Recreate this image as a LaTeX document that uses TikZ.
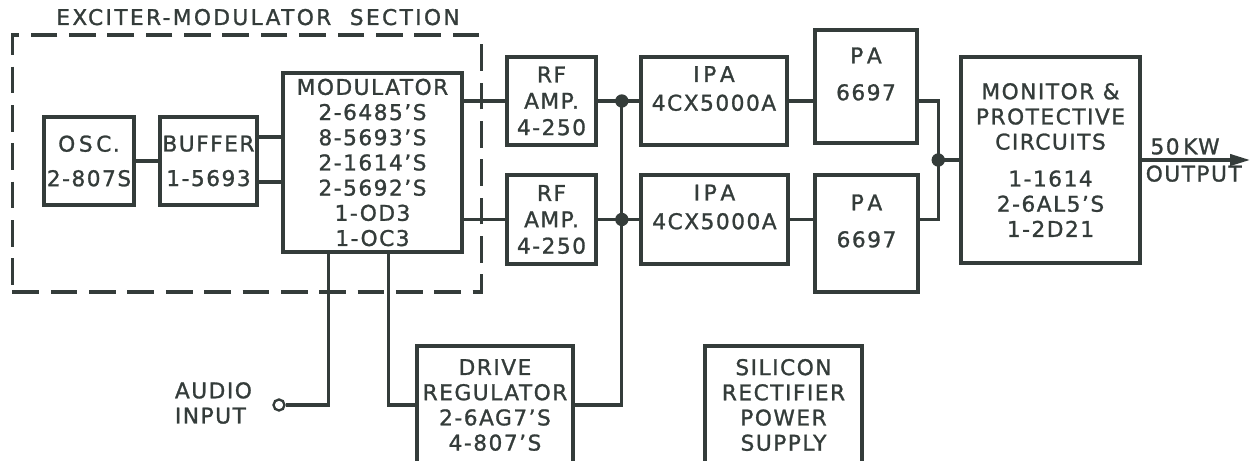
\documentclass[tikz,border=0pt]{standalone}
\usepackage{fontspec}
\setmainfont{DejaVu Sans}[LetterSpace=7, FakeBold=1.2]
\usetikzlibrary{arrows.meta, positioning}

\definecolor{ink}{RGB}{52,60,58}

\begin{document}
\begin{tikzpicture}[
    x=0.03cm, y=-0.03cm,
    >={Triangle[length=0.6cm, width=0.34cm]},
    every node/.style={font=\fontsize{18.5}{21.5}\selectfont, align=center, text=ink},
    block/.style={draw=ink, line width=3pt, inner sep=2pt},
    line/.style={draw=ink, line width=2.6pt},
    section/.style={draw=ink, line width=2.6pt, dash pattern=on 0.8cm off 0.35cm}
]
\useasboundingbox (0,0) rectangle (1250,461);

% Exciter section
\node[section, minimum width=14.07cm, minimum height=7.71cm] (exciter) at (247,163.5) {};
\node[anchor=base] (title) at (258,25) {\addfontfeature{LetterSpace=11}EXCITER-MODULATOR\ \ SECTION};

% Nodes
\node[block, minimum width=2.7cm, minimum height=2.64cm] (osc) at (89,161) {O\,S\,C.\\[8pt]2-807S};
\node[block, minimum width=2.73cm, minimum height=2.64cm] (buffer) at (208.5,161) {BUFFER\\[8pt]1-5693};
\node[block, minimum width=5.37cm, minimum height=5.37cm] (modulator) at (372.5,162.5)
    {MODULATOR\\2-6485’S\\8-5693’S\\2-1614’S\\2-5692’S\\1-OD3\\1-OC3};

\node[block, minimum width=2.67cm, minimum height=2.64cm] (rfa) at (551.5,101) {RF\\[1pt]AMP.\\[1pt]4-250};
\node[block, minimum width=2.67cm, minimum height=2.67cm] (rfb) at (551.5,219.5) {RF\\[1pt]AMP.\\[1pt]4-250};

\node[block, minimum width=4.38cm, minimum height=2.64cm] (ipaa) at (714,101) {I\,P\,A\\[3pt]4CX5000A\\\mbox{}};
\node[block, minimum width=4.41cm, minimum height=2.67cm] (ipab) at (714.5,219.5) {I\,P\,A\\[3pt]4CX5000A\\\mbox{}};

\node[block, minimum width=3.06cm, minimum height=3.39cm] (paa) at (866,86.5) {P\,A\\[10pt]6697\\\mbox{}};
\node[block, minimum width=3.09cm, minimum height=3.51cm] (pab) at (866.5,233.5) {P\,A\\[10pt]6697\\\mbox{}};

\node[block, minimum width=5.37cm, minimum height=6.18cm] (monitor) at (1050.5,160)
    {MONITOR \&\\PROTECTIVE\\CIRCUITS\\[10pt]1-1614\\2-6AL5’S\\1-2D21};

\node[block, minimum width=4.68cm, minimum height=3.54cm] (drive) at (495,405)
    {DRIVE\\REGULATOR\\2-6AG7’S\\4-807’S};
\node[block, minimum width=4.71cm, minimum height=3.54cm] (rectifier) at (783.5,405)
    {SILICON\\RECTIFIER\\POWER\\SUPPLY};

\node[draw=ink, circle, line width=2pt, minimum size=0.33cm, inner sep=0pt] (audio) at (279,405) {};
\node[anchor=east, align=left] (audiotext) at (256,403) {AUDIO\\INPUT};

% Arrows
\draw[line] (osc.east) -- (buffer.west);
\coordinate (bufa) at ([yshift=0.72cm]buffer.east);
\coordinate (bufb) at ([yshift=-0.63cm]buffer.east);
\draw[line] (bufa) -- (bufa -| modulator.west);
\draw[line] (bufb) -- (bufb -| modulator.west);

\draw[line] (modulator.east |- rfa.west) -- (rfa.west);
\draw[line] (modulator.east |- rfb.west) -- (rfb.west);
\draw[line] (rfa.east) -- coordinate[pos=0.58] (ja) (ipaa.west);
\draw[line] (rfb.east) -- coordinate[pos=0.58] (jb) (ipab.west);
\draw[line] (ja) -- (ja |- drive.east) -- (drive.east);

\draw[line] (ipaa.east) -- (ipaa.east -| paa.west);
\draw[line] (ipab.east) -- (ipab.east -| pab.west);
\draw[line] (monitor.west) -- ++(-21,0) coordinate (comb);
\draw[line] (ipaa.east -| paa.east) -| (comb) |- (ipab.east -| pab.east);

\coordinate (out) at (1250,160);
\draw[line, ->] (monitor.east) -- node[pos=0.4, above] (kw) {50\,KW} node[pos=0.48, below] (outlbl) {OUTPUT} (out);

\path (modulator.south west) ++(47,0) coordinate (audtap) ++(60,0) coordinate (drvtap);
\draw[line] (audtap) |- (audio.east);
\draw[line] (drvtap) |- (drive.west);

\fill[ink] (ja) circle (0.2cm) (jb) circle (0.2cm) (comb) circle (0.2cm);

\end{tikzpicture}
\end{document}
